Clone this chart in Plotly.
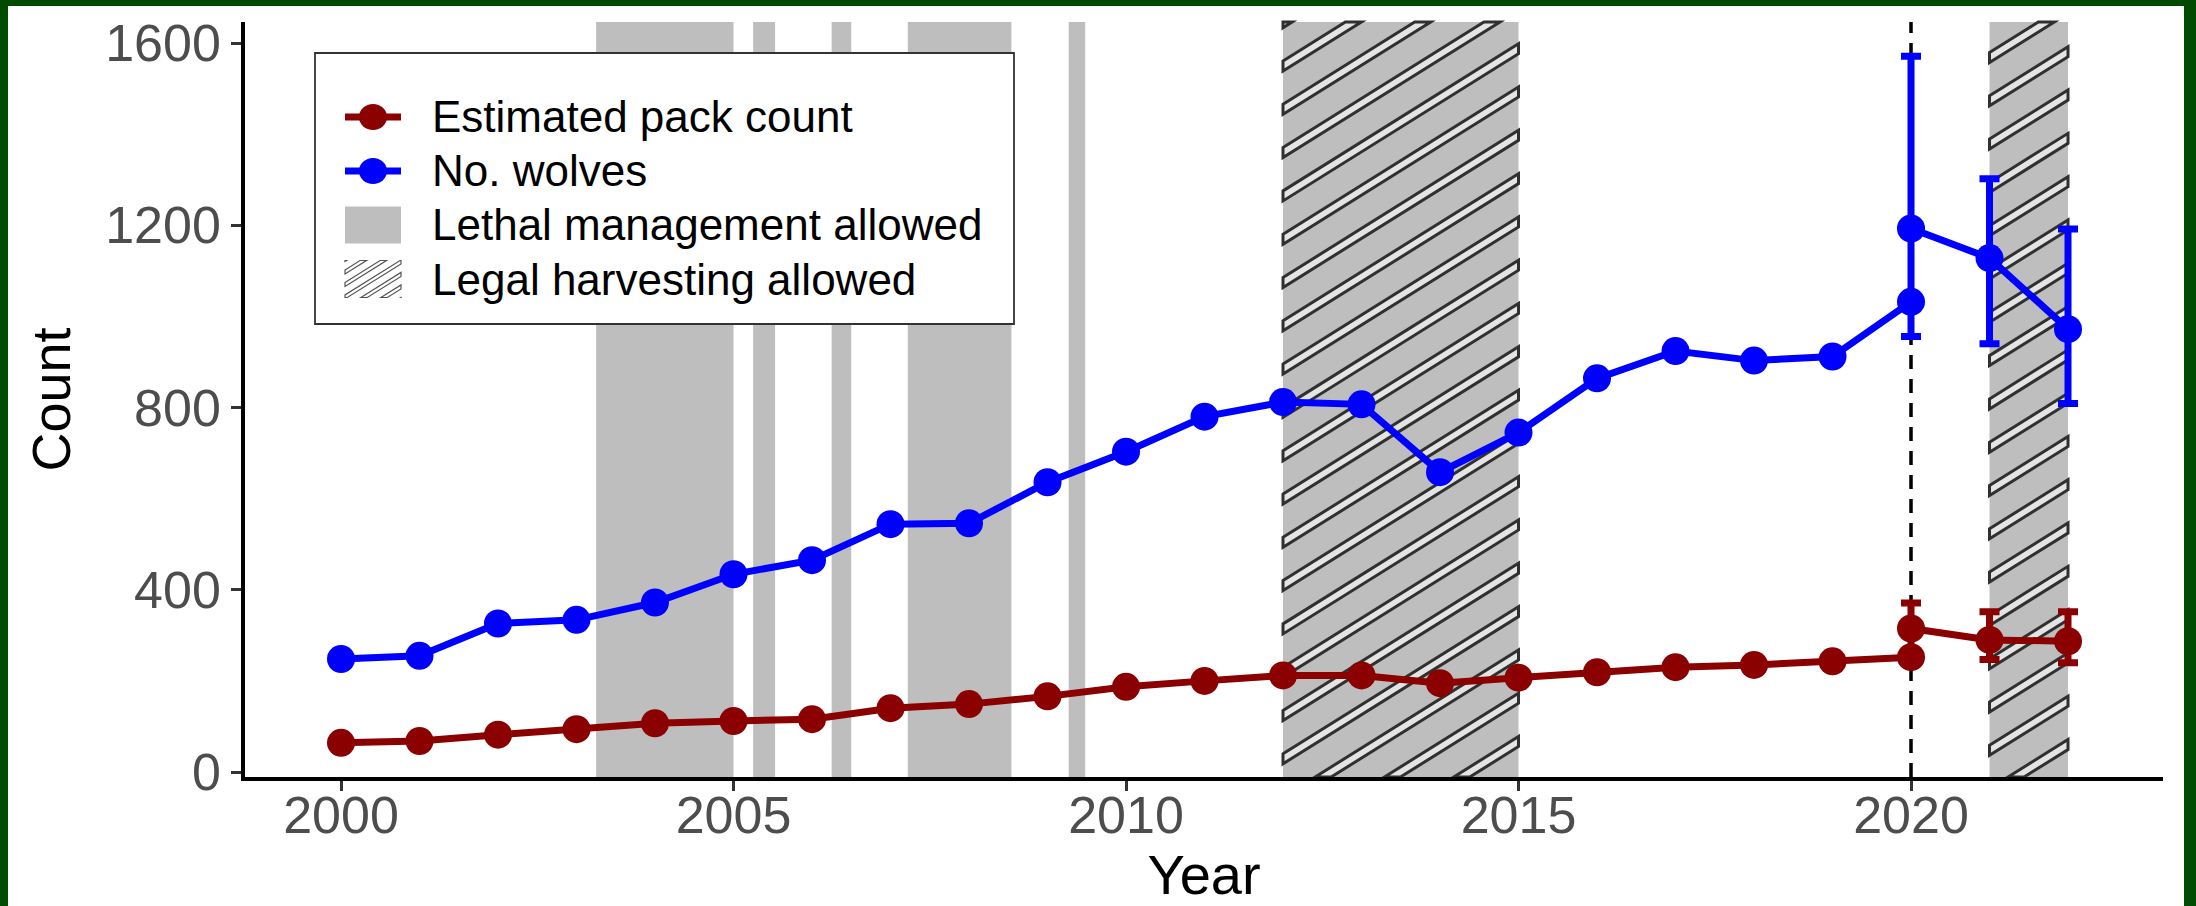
import math
import plotly.graph_objects as go

# ---------------- data ----------------
years = list(range(2000, 2021))
wolves = [248, 255, 326, 334, 372, 434, 465, 544, 546, 636, 703, 780, 812, 807,
          658, 745, 864, 924, 903, 912, 1032]
packs = [64, 68, 82, 94, 107, 112, 116, 140, 149, 166, 187, 200, 212, 212,
         195, 207, 219, 230, 235, 243, 252]

est_years = [2020, 2021, 2022]
wolves_est = [1193, 1128, 972]
wolves_hi = [1571, 1302, 1192]
wolves_lo = [956, 940, 809]
packs_est = [315, 290, 287]
packs_hi = [371, 352, 352]
packs_lo = [262, 247, 240]

lethal_start = [2003.25, 2005.25, 2006.25, 2007.22, 2009.27]
lethal_end = [2005.0, 2005.53, 2006.5, 2008.54, 2009.48]
harvest_start = [2012, 2021]
harvest_end = [2015, 2022]
policy_year = 2020

x_ticks = [2000, 2005, 2010, 2015, 2020]
y_ticks = [0, 400, 800, 1200, 1600]

legend_labels = ["Estimated pack count", "No. wolves",
                 "Lethal management allowed", "Legal harvesting allowed"]

# ---------------- layout geometry ----------------
FIG_W, FIG_H = 2196, 906
ML, MR, MT, MB = 245, 33, 22, 129
PW = FIG_W - ML - MR
PH = FIG_H - MT - MB
XR = [1998.777, 2023.21]
YR = [-10.97, 1646.2]

RED = "#8B0000"
BLUE = "#0000FF"
BAND = "#BEBEBE"
GREEN = "#004B00"
FONT = "Liberation Sans, Arial, sans-serif"


def fx(px):
    return (px - ML) / PW


def fy(py):
    return (MT + PH - py) / PH


def x2px(x):
    return ML + (x - XR[0]) / (XR[1] - XR[0]) * PW


def px2x(px):
    return XR[0] + (px - ML) / PW * (XR[1] - XR[0])


def clip_poly(pts, xmin, xmax, ymin, ymax):
    def clip(points, inside, inter):
        out = []
        n = len(points)
        for i in range(n):
            cur, prev = points[i], points[i - 1]
            if inside(cur):
                if not inside(prev):
                    out.append(inter(prev, cur))
                out.append(cur)
            elif inside(prev):
                out.append(inter(prev, cur))
        return out

    def ix(a, b, xv):
        t = (xv - a[0]) / (b[0] - a[0])
        return (xv, a[1] + t * (b[1] - a[1]))

    def iy(a, b, yv):
        t = (yv - a[1]) / (b[1] - a[1])
        return (a[0] + t * (b[0] - a[0]), yv)

    pts = clip(pts, lambda p: p[0] >= xmin, lambda a, b: ix(a, b, xmin))
    if pts:
        pts = clip(pts, lambda p: p[0] <= xmax, lambda a, b: ix(a, b, xmax))
    if pts:
        pts = clip(pts, lambda p: p[1] >= ymin, lambda a, b: iy(a, b, ymin))
    if pts:
        pts = clip(pts, lambda p: p[1] <= ymax, lambda a, b: iy(a, b, ymax))
    return pts


def stripes(xa, xb, ya, yb, spacing, angle_deg, thick, c0):
    """Polygons (pixel coords) of diagonal stripes clipped to a pixel rectangle."""
    t = math.tan(math.radians(angle_deg))
    hv = thick / math.cos(math.radians(angle_deg))
    polys = []
    cmin = ya + t * xa - hv
    cmax = yb + t * xb + hv
    k0 = math.floor((cmin - c0) / spacing)
    k1 = math.ceil((cmax - c0) / spacing)
    for k in range(k0, k1 + 1):
        c = c0 + k * spacing
        l, r = xa - 20, xb + 20
        quad = [(l, c - t * l - hv / 2), (r, c - t * r - hv / 2),
                (r, c - t * r + hv / 2), (l, c - t * l + hv / 2)]
        cp = clip_poly(quad, xa, xb, ya, yb)
        if len(cp) >= 3:
            polys.append(cp)
    return polys


shapes = []
annotations = []

# lethal management bands
for s, e in zip(lethal_start, lethal_end):
    shapes.append(dict(type="rect", xref="x", yref="paper", x0=s, x1=e, y0=0, y1=1,
                       fillcolor=BAND, line=dict(width=0), layer="below"))

# legal harvesting hatched bands
for s, e in zip(harvest_start, harvest_end):
    shapes.append(dict(type="rect", xref="x", yref="paper", x0=s, x1=e, y0=0, y1=1,
                       fillcolor=BAND, line=dict(width=0), layer="below"))
    xa, xb = x2px(s), x2px(e)
    for poly in stripes(xa, xb, MT, MT + PH, 43.3, 32, 8.5, 1473.9):
        path = "M " + " L ".join(f"{px2x(p[0]):.5f},{fy(p[1]):.5f}" for p in poly) + " Z"
        shapes.append(dict(type="path", xref="x", yref="paper", path=path,
                           fillcolor="#E4E4E4", line=dict(color="#303030", width=3),
                           layer="below"))

# vertical dashed line
shapes.append(dict(type="line", xref="x", yref="paper", x0=policy_year, x1=policy_year,
                   y0=0, y1=1, line=dict(color="black", width=3.5, dash="14px,10px"),
                   layer="below"))

# ---------------- manual legend ----------------
LX0, LX1, LY0, LY1 = 315, 1014, 53, 324
shapes.append(dict(type="rect", xref="paper", yref="paper", x0=fx(LX0), x1=fx(LX1),
                   y0=fy(LY1), y1=fy(LY0), fillcolor="white",
                   line=dict(color="#333333", width=1.8), layer="above"))
item_y = [117, 171, 225, 279]
kx0, kx1 = 345, 401
kxc = (kx0 + kx1) / 2
for yy, col in zip(item_y[:2], [RED, BLUE]):
    shapes.append(dict(type="line", xref="paper", yref="paper", x0=fx(kx0), x1=fx(kx1),
                       y0=fy(yy), y1=fy(yy), line=dict(color=col, width=7), layer="above"))
    shapes.append(dict(type="circle", xref="paper", yref="paper",
                       x0=fx(kxc - 14), x1=fx(kxc + 14), y0=fy(yy + 13), y1=fy(yy - 13),
                       fillcolor=col, line=dict(width=0), layer="above"))
shapes.append(dict(type="rect", xref="paper", yref="paper", x0=fx(kx0), x1=fx(kx1),
                   y0=fy(item_y[2] + 18.5), y1=fy(item_y[2] - 18.5), fillcolor=BAND,
                   line=dict(width=0), layer="above"))
for poly in stripes(kx0, kx1, item_y[3] - 18.5, item_y[3] + 18.5, 12.5, 32, 3.4, 0):
    path = "M " + " L ".join(f"{fx(p[0]):.5f},{fy(p[1]):.5f}" for p in poly) + " Z"
    shapes.append(dict(type="path", xref="paper", yref="paper", path=path,
                       fillcolor="white", line=dict(color="#555555", width=1.2),
                       layer="above"))
for yy, lab in zip(item_y, legend_labels):
    annotations.append(dict(text=lab, xref="paper", yref="paper", x=fx(430), y=fy(yy),
                            xanchor="left", yanchor="middle", showarrow=False,
                            font=dict(family=FONT, size=44, color="black")))

# ---------------- green frame ----------------
for (a, b, c, d) in [(0, 8, 0, FIG_H), (0, FIG_W, 0, 6), (2184, FIG_W, 0, FIG_H)]:
    shapes.append(dict(type="rect", xref="paper", yref="paper", x0=fx(a), x1=fx(b),
                       y0=fy(d), y1=fy(c), fillcolor=GREEN, line=dict(width=0),
                       layer="above"))

# ---------------- traces ----------------
MS = 28
fig = go.Figure()
fig.add_trace(go.Scatter(x=years, y=packs, mode="lines+markers", name=legend_labels[0],
                         line=dict(color=RED, width=7), marker=dict(color=RED, size=MS)))
fig.add_trace(go.Scatter(x=years, y=wolves, mode="lines+markers", name=legend_labels[1],
                         line=dict(color=BLUE, width=7), marker=dict(color=BLUE, size=MS)))
fig.add_trace(go.Scatter(
    x=est_years, y=packs_est, mode="lines+markers", showlegend=False,
    line=dict(color=RED, width=7), marker=dict(color=RED, size=MS),
    error_y=dict(type="data", symmetric=False,
                 array=[h - v for h, v in zip(packs_hi, packs_est)],
                 arrayminus=[v - l for v, l in zip(packs_est, packs_lo)],
                 color=RED, thickness=7, width=10)))
fig.add_trace(go.Scatter(
    x=est_years, y=wolves_est, mode="lines+markers", showlegend=False,
    line=dict(color=BLUE, width=7), marker=dict(color=BLUE, size=MS),
    error_y=dict(type="data", symmetric=False,
                 array=[h - v for h, v in zip(wolves_hi, wolves_est)],
                 arrayminus=[v - l for v, l in zip(wolves_est, wolves_lo)],
                 color=BLUE, thickness=7, width=10)))

axis_common = dict(showgrid=False, zeroline=False, showline=True, linecolor="black",
                   linewidth=3.5, ticks="outside", ticklen=10, tickwidth=3,
                   tickcolor="#333333", automargin=False,
                   tickfont=dict(family=FONT, size=52, color="#4D4D4D"))

fig.update_layout(
    width=FIG_W, height=FIG_H,
    margin=dict(l=ML, r=MR, t=MT, b=MB, pad=0),
    paper_bgcolor="white", plot_bgcolor="white",
    showlegend=False,
    shapes=shapes, annotations=annotations,
    xaxis=dict(range=XR, tickvals=x_ticks, ticktext=[str(v) for v in x_ticks],
               ticklabelstandoff=-20,
               title=dict(text="Year", standoff=14,
                          font=dict(family=FONT, size=56, color="black")),
               **axis_common),
    yaxis=dict(range=YR, tickvals=y_ticks, ticktext=[str(v) for v in y_ticks],
               title=dict(text="Count", standoff=18,
                          font=dict(family=FONT, size=54, color="black")),
               **axis_common),
)

fig.write_html("out.html", config={"displayModeBar": False},
               post_script="document.body.style.margin='0px';document.body.style.overflow='hidden';")
